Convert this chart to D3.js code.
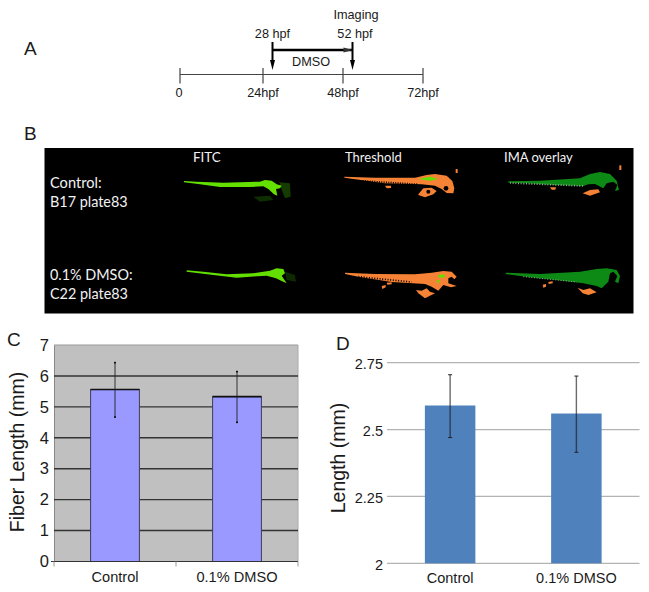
<!DOCTYPE html>
<html><head><meta charset="utf-8">
<script src="https://cdn.jsdelivr.net/npm/d3@7"></script>
<style>
html,body{margin:0;padding:0;background:#fff}
svg{display:block}
text{font-family:"Liberation Sans",Arial,sans-serif;fill:#1a1a1a}
</style></head><body>
<svg id="c" width="649" height="592"></svg>
<script>
// Panel A
const timeTicks = [0, 24, 48, 72];
const timeLabels = ["0", "24hpf", "48hpf", "72hpf"];
const treatStart = 28, treatEnd = 52;
// Panel C
const categories = ["Control", "0.1% DMSO"];
const fiberValues = [5.56, 5.33];
const fiberLow = [4.67, 4.50];
const fiberHigh = [6.43, 6.14];
const fiberTicks = [0, 1, 2, 3, 4, 5, 6, 7];
// Panel D
const lengthValues = [2.59, 2.56];
const lengthLow = [2.47, 2.415];
const lengthHigh = [2.705, 2.70];
const lengthTicks = [2, 2.25, 2.5, 2.75];
const lengthTickLabels = ["2", "2.25", "2.5", "2.75"];

const svg = d3.select("#c");
const panelLetter = (t, x, y) => svg.append("text").attr("x", x).attr("y", y).attr("font-size", 19).text(t);
panelLetter("A", 24, 55); panelLetter("B", 24, 140); panelLetter("C", 7, 346); panelLetter("D", 336, 350);

/* ---------- A: timeline ---------- */
const tx = d3.scaleLinear().domain([0, 24, 28, 48, 52, 72]).range([180, 263, 272.5, 343, 352.5, 423]);
const A = svg.append("g");
const lineA = 74.5;
A.append("line").attr("x1", tx(0)).attr("x2", tx(72)).attr("y1", lineA).attr("y2", lineA).attr("stroke", "#444").attr("stroke-width", 1.2);
timeTicks.forEach((t, i) => {
  A.append("line").attr("x1", tx(t)).attr("x2", tx(t)).attr("y1", lineA - 6.5).attr("y2", lineA + 9).attr("stroke", "#444").attr("stroke-width", 1.2);
  A.append("text").attr("x", tx(t) - (i === 0 ? 1 : 0)).attr("y", 97).attr("text-anchor", "middle").attr("font-size", 12.7).text(timeLabels[i]);
});
[treatStart, treatEnd].forEach(t => {
  A.append("line").attr("x1", tx(t)).attr("x2", tx(t)).attr("y1", 42).attr("y2", 62).attr("stroke", "#000").attr("stroke-width", 2);
  A.append("path").attr("d", `M${tx(t)-2.5},60L${tx(t)+2.5},60L${tx(t)},70Z`).attr("fill", "#000");
});
A.append("line").attr("x1", tx(treatStart)).attr("x2", tx(treatEnd)).attr("y1", 50).attr("y2", 50).attr("stroke", "#000").attr("stroke-width", 2.6);
A.append("path").attr("d", `M${tx(treatEnd)-9},47.5L${tx(treatEnd)},50L${tx(treatEnd)-9},52.5Z`).attr("fill", "#333");
A.append("text").attr("x", tx(treatStart)).attr("y", 37.5).attr("text-anchor", "middle").attr("font-size", 12.7).text("28 hpf");
A.append("text").attr("x", 355).attr("y", 37.5).attr("text-anchor", "middle").attr("font-size", 12.7).text("52 hpf");
A.append("text").attr("x", 356).attr("y", 18.5).attr("text-anchor", "middle").attr("font-size", 12.7).text("Imaging");
A.append("text").attr("x", 311).attr("y", 66).attr("text-anchor", "middle").attr("font-size", 12.7).text("DMSO");

/* ---------- B: image panel, fish silhouettes ---------- */
const defs = svg.append("defs");
defs.append("filter").attr("id", "soft").append("feGaussianBlur").attr("stdDeviation", 0.55);
defs.append("filter").attr("id", "glow").append("feGaussianBlur").attr("stdDeviation", 1.6);
svg.append("rect").attr("x", 44.5).attr("y", 148).attr("width", 589).attr("height", 165.5).attr("fill", "#000");
const ORANGE = "#f58234", DKGREEN = "#0c8a12", BRIGHT = "#64e000";
const outline = d3.line().curve(d3.curveLinearClosed);
const B = svg.append("g");
function blob(ox, oy, pts, fill, filter) {
  B.append("path").attr("transform", `translate(${ox},${oy}) scale(${1/3})`).attr("d", outline(pts))
    .attr("fill", fill).attr("filter", filter || "url(#soft)");
}
function dash(ox, oy, x1, y1, x2, y2, col, w, da) {
  B.append("line").attr("transform", `translate(${ox},${oy}) scale(${1/3})`)
    .attr("x1", x1).attr("y1", y1).attr("x2", x2).attr("y2", y2)
    .attr("stroke", col).attr("stroke-width", w).attr("stroke-dasharray", da);
}
function hole(ox, oy, x, y, r) {
  B.append("circle").attr("transform", `translate(${ox},${oy}) scale(${1/3})`).attr("cx", x).attr("cy", y).attr("r", r).attr("fill", "#000").attr("filter", "url(#soft)");
}
// FITC
blob(170, 165, [[250,95],[300,92],[310,105],[270,110]], "#0e2e00", "url(#glow)");
blob(170, 165, [[328,52],[360,55],[362,95],[345,100],[335,75]], "#123a00", "url(#glow)");
blob(170, 165, [[42,48],[80,50],[160,53],[270,50],[285,45],[305,47],[320,58],[335,62],[330,70],[318,72],[322,92],[312,88],[295,72],[280,64],[240,66],[150,66],[90,58],[42,52]], BRIGHT);
blob(170, 255, [[345,50],[375,60],[378,80],[350,75]], "#0b2a00", "url(#glow)");
blob(170, 255, [[50,46],[100,50],[170,58],[250,55],[300,47],[320,40],[340,42],[345,55],[335,62],[350,85],[335,78],[318,70],[290,62],[200,68],[130,60],[50,50]], BRIGHT);
// Threshold
blob(335, 165, [[28,35],[120,38],[240,38],[275,30],[300,27],[335,32],[352,48],[358,70],[355,85],[335,84],[320,72],[300,62],[260,58],[150,55],[60,43],[28,38]], ORANGE);
dash(335, 165, 55, 46, 250, 58, "#000", 5, "3 4");
hole(335, 165, 333, 70, 7);
blob(335, 165, [[250,88],[265,70],[290,68],[305,78],[295,88],[270,97],[250,90]], ORANGE);
hole(335, 165, 280, 80, 6); hole(335, 165, 300, 68, 4);
blob(335, 165, [[150,62],[168,62],[168,69],[155,70]], ORANGE);
blob(335, 165, [[362,12],[368,12],[368,24],[362,24]], ORANGE);
blob(335, 165, [[250,42],[285,35],[310,42],[285,47]], BRIGHT);
blob(335, 260, [[30,38],[120,42],[240,43],[290,38],[325,33],[350,35],[365,50],[358,58],[350,50],[340,55],[340,70],[365,78],[348,82],[325,75],[310,92],[290,80],[270,72],[170,66],[70,50],[30,42]], ORANGE);
dash(335, 260, 70, 50, 230, 66, "#000", 5, "3 5");
blob(335, 260, [[243,90],[260,92],[275,85],[285,95],[300,100],[270,115],[250,100]], ORANGE);
blob(335, 260, [[140,78],[152,75],[152,82],[142,87]], ORANGE);
blob(335, 260, [[155,68],[170,67],[170,73],[157,74]], ORANGE);
blob(335, 260, [[310,45],[328,43],[330,52],[312,54]], BRIGHT);
blob(335, 260, [[306,60],[313,60],[313,68],[306,68]], BRIGHT);
// IMA overlay
blob(500, 160, [[25,64],[120,62],[240,55],[270,42],[300,36],[330,42],[350,62],[357,90],[345,93],[352,75],[340,65],[320,70],[310,85],[285,72],[265,73],[250,78],[160,75],[80,70],[25,68]], DKGREEN);
dash(500, 160, 30, 69, 250, 78, "#9aa89a", 5, "3 5");
blob(500, 160, [[248,100],[270,90],[295,88],[300,97],[270,107]], ORANGE);
blob(500, 160, [[150,82],[168,82],[166,89],[155,89]], ORANGE);
blob(500, 160, [[358,16],[364,16],[364,30],[358,30]], ORANGE);
blob(500, 260, [[17,38],[120,42],[240,35],[290,27],[320,25],[350,30],[360,48],[355,70],[345,65],[352,48],[340,35],[330,40],[325,65],[305,85],[290,78],[250,70],[170,60],[90,52],[17,42]], DKGREEN);
dash(500, 260, 70, 50, 230, 66, "#8fb08f", 3, "3 5");
blob(500, 260, [[233,83],[250,90],[270,85],[290,97],[265,105],[248,100]], ORANGE);
blob(500, 260, [[128,74],[138,72],[138,80],[130,83]], ORANGE);
blob(500, 260, [[145,66],[158,64],[158,70],[146,72]], ORANGE);
// Panel B texts
const wt = (t, x, y, s) => B.append("text").attr("x", x).attr("y", y).attr("font-size", s)
  .style("font-family", "Lato, 'Open Sans', sans-serif").style("fill", "#f2f2f2").text(t);
[["FITC",193,162,13.4],["Threshold",345,162,13],["IMA overlay",504,162,13],
 ["Control:",50,188,14.6],["B17 plate83",50,207,14.4],["0.1% DMSO:",50,280,14.4],["C22 plate83",50,299,14.4]].forEach(d => wt(...d));

/* ---------- C: fiber length ---------- */
const xC = d3.scaleBand().domain(categories).range([54, 298]).paddingInner(0.6).paddingOuter(0.3);
const yC = d3.scaleLinear().domain([0, 7]).range([561.5, 345]);
const gC = svg.append("g");
gC.append("rect").attr("x", 54).attr("y", yC(7)).attr("width", 244).attr("height", yC(0) - yC(7)).attr("fill", "#c0c0c0");
gC.append("line").attr("x1", 54).attr("x2", 298).attr("y1", yC(7)).attr("y2", yC(7)).attr("stroke", "#999");
gC.append("line").attr("x1", 298).attr("x2", 298).attr("y1", yC(7)).attr("y2", yC(0)).attr("stroke", "#aaa");
const axL = gC.append("g").attr("transform", "translate(54,0)")
  .call(d3.axisLeft(yC).tickValues(fiberTicks).tickSize(0).tickPadding(5).tickFormat(d3.format("d")));
axL.select(".domain").attr("stroke", "#888");
axL.selectAll("text").attr("font-size", 16.5).style("font-family", '"Liberation Sans"').attr("fill", "#1a1a1a");
gC.selectAll(".gl").data(fiberTicks.filter(d => d > 0 && d < 7)).enter().append("line")
  .attr("x1", 54).attr("x2", 298).attr("y1", d => yC(d)).attr("y2", d => yC(d)).attr("stroke", "#333").attr("stroke-width", 1.4);
gC.selectAll(".bar").data(categories).enter().append("rect")
  .attr("x", d => xC(d)).attr("width", xC.bandwidth())
  .attr("y", (d, i) => yC(fiberValues[i])).attr("height", (d, i) => yC(0) - yC(fiberValues[i]))
  .attr("fill", "#9999ff").attr("stroke", "#3c3c5c").attr("stroke-width", 1);
gC.selectAll(".top").data(categories).enter().append("line")
  .attr("x1", d => xC(d)).attr("x2", d => xC(d) + xC.bandwidth())
  .attr("y1", (d, i) => yC(fiberValues[i])).attr("y2", (d, i) => yC(fiberValues[i])).attr("stroke", "#111").attr("stroke-width", 1.6);
const axCb = gC.append("g").attr("transform", `translate(0,${yC(0)})`)
  .call(d3.axisBottom(xC).tickSize(0).tickPadding(10));
axCb.select(".domain").remove();
axCb.selectAll("text").attr("font-size", 14.6).style("font-family", '"Liberation Sans"').attr("fill", "#1a1a1a");
gC.append("line").attr("x1", 51).attr("x2", 298).attr("y1", yC(0)).attr("y2", yC(0)).attr("stroke", "#333").attr("stroke-width", 1.2);
[54, 176, 298].forEach(x => gC.append("line").attr("x1", x).attr("x2", x).attr("y1", yC(0)).attr("y2", yC(0) + 5).attr("stroke", "#999"));
categories.forEach((c, i) => {
  const cx = xC(c) + xC.bandwidth() / 2;
  gC.append("line").attr("x1", cx).attr("x2", cx).attr("y1", yC(fiberLow[i])).attr("y2", yC(fiberHigh[i])).attr("stroke", "#222").attr("stroke-width", 0.9);
  [fiberLow[i], fiberHigh[i]].forEach(v => gC.append("rect").attr("x", cx - 1).attr("y", yC(v) - 0.8).attr("width", 2).attr("height", 1.6).attr("fill", "#111"));
});
svg.append("text").attr("transform", "translate(24,452) rotate(-90)").attr("text-anchor", "middle").attr("font-size", 19.5).text("Fiber Length (mm)");

/* ---------- D: length ---------- */
const xD = d3.scaleBand().domain(categories).range([387, 639.5]).paddingInner(0.6).paddingOuter(0.3);
const yD = d3.scaleLinear().domain([2, 2.75]).range([563.3, 362.7]);
const gD = svg.append("g");
gD.selectAll(".gl").data(lengthTicks).enter().append("line")
  .attr("x1", 387).attr("x2", 639.5).attr("y1", d => yD(d)).attr("y2", d => yD(d)).attr("stroke", "#b3b3b3").attr("stroke-width", 1.2);
const axD = gD.append("g").attr("transform", "translate(387,0)")
  .call(d3.axisLeft(yD).tickValues(lengthTicks).tickSize(0).tickPadding(4).tickFormat((d, i) => lengthTickLabels[i]));
axD.select(".domain").remove();
axD.selectAll("text").attr("font-size", 14.5).attr("dy", "0.42em").style("font-family", '"Liberation Sans"').attr("fill", "#1a1a1a");
gD.selectAll(".bar").data(categories).enter().append("rect")
  .attr("x", d => xD(d)).attr("width", xD.bandwidth())
  .attr("y", (d, i) => yD(lengthValues[i])).attr("height", (d, i) => yD(2) - yD(lengthValues[i])).attr("fill", "#4f81bd");
const axDb = gD.append("g").attr("transform", `translate(0,${yD(2)})`).call(d3.axisBottom(xD).tickSize(0).tickPadding(9));
axDb.select(".domain").remove();
axDb.selectAll("text").attr("font-size", 14.5).style("font-family", '"Liberation Sans"').attr("fill", "#1a1a1a");
categories.forEach((c, i) => {
  const cx = xD(c) + xD.bandwidth() / 2;
  gD.append("line").attr("x1", cx).attr("x2", cx).attr("y1", yD(lengthLow[i])).attr("y2", yD(lengthHigh[i])).attr("stroke", "#1a1a1a").attr("stroke-opacity", 0.65).attr("stroke-width", 1.4);
  [lengthLow[i], lengthHigh[i]].forEach(v => gD.append("line").attr("x1", cx - 2).attr("x2", cx + 2).attr("y1", yD(v)).attr("y2", yD(v)).attr("stroke", "#222").attr("stroke-width", 1));
});
svg.append("text").attr("transform", "translate(345,458) rotate(-90)").attr("text-anchor", "middle").attr("font-size", 19.5).text("Length (mm)");
</script>
</body></html>
